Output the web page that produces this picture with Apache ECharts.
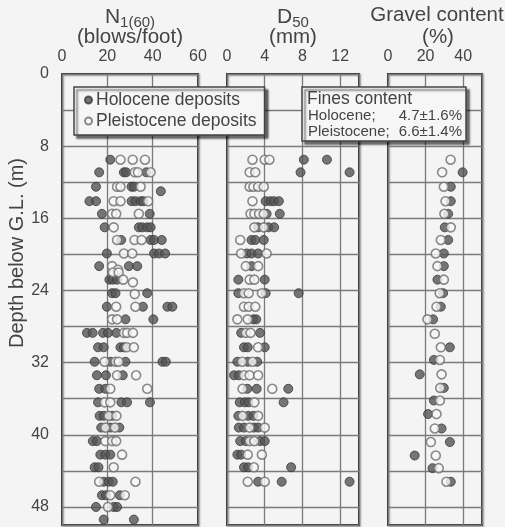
<!DOCTYPE html>
<html>
<head>
<meta charset="utf-8">
<script src="https://cdn.jsdelivr.net/npm/echarts@6/dist/echarts.min.js"></script>
<style>html,body{margin:0;padding:0;background:#f4f4f4}#c{width:505px;height:527px}</style>
</head>
<body>
<div id="c"></div>
<script>
// depth ticks and ranges
var depthTicks = [0, 8, 16, 24, 32, 40, 48];
var nTicks = [0, 20, 40, 60];
var dTicks = [0, 4, 8, 12];
var gTicks = [0, 20, 40];

// N1(60) [value, depth]
var nHolocene = [
 [21.3,9.5],
 [16.4,10.9],[27.3,10.9],[28.3,10.9],[37.2,10.9],
 [15,12.5],[30.7,12.5],[31.7,12.5],[43.6,13.0],
 [12.1,14.1],[15,14.1],[30.7,14.1],[32.4,14.1],[34.7,14.1],[35.9,14.1],
 [17.6,15.5],[38.7,15.5],
 [18.8,17.0],[33.9,17.0],[35.4,17.0],[37.6,17.0],[39.1,17.0],
 [26.1,18.4],[39.1,18.4],[40.6,18.4],[44,18.4],
 [19.8,19.9],[40.6,19.9],[42.8,19.9],[45.5,19.9],
 [16.4,21.3],[29.5,21.3],[33.2,21.3],
 [20.9,22.8],[22.4,22.8],[24.3,22.8],
 [22.1,24.3],[23.6,24.3],[37.6,24.3],
 [19.8,25.8],[35.7,25.8],[46.5,25.8],[48.7,25.8],
 [28,27.2],[40.3,27.2],
 [11,28.7],[13.5,28.7],[18.1,28.7],[20.3,28.7],[24,28.7],
 [15.9,30.3],[18.4,30.3],[25.8,30.3],[27.3,30.3],
 [14.4,31.9],[21.3,31.9],[28,31.9],[44.3,31.9],[45.8,31.9],
 [15.4,33.4],[19.4,33.4],[26.8,33.4],
 [16.4,34.9],[19.1,34.9],
 [15.9,36.4],[26.2,36.4],[28.7,36.4],[38.8,36.4],
 [16.6,37.9],[18.4,37.9],[22.1,37.9],
 [17.3,39.2],[21.3,39.2],[25.3,39.2],
 [13.6,40.7],[15.4,40.7],
 [16.9,42.2],[19.1,42.2],[21.3,42.2],
 [14.4,43.6],[16.1,43.6],
 [18.4,45.2],[20.6,45.2],[22.4,45.2],
 [17.6,46.7],[19.4,46.7],[25.5,46.7],
 [15,48.0],[22.8,48.0],[24.3,48.0],
 [18.4,49.4],[31.7,49.4]
];
var nPleistocene = [
 [25.8,9.5],[31.2,9.5],[36.6,9.5],
 [32.1,10.9],[33.5,10.9],[39.1,10.9],
 [24.3,12.5],[25.8,12.5],[34.7,12.5],
 [22.8,14.1],[25.8,14.1],[38,14.1],
 [22.1,15.5],[23.9,15.5],[33.9,15.5],
 [22.8,17.0],
 [24.3,18.4],[32,18.4],[35.1,18.4],
 [27.3,19.9],[31,19.9],
 [22.1,21.3],[24.7,21.7],[22.5,22.0],[25,22.0],
 [27,22.8],[31.3,23.1],
 [32.1,24.4],
 [23.9,25.8],[32.4,25.8],
 [22.1,27.2],[24.3,27.2],
 [27.3,28.7],[28.7,28.7],[31.3,28.7],
 [28.5,30.3],[31.7,30.3],
 [18.8,31.9],[23.6,31.9],[25,31.9],
 [24.3,33.4],[32.7,33.4],
 [21.3,34.9],[37.6,34.9],
 [18.8,36.4],[21.3,36.4],
 [20.6,37.9],[24,37.9],
 [19.1,39.2],[23.3,39.2],
 [19.1,40.7],[22.1,40.7],[23.9,40.7],
 [26.5,42.2],
 [22.8,43.6],
 [16.4,45.2],[32.4,45.2],
 [21.3,46.7],[27.7,46.7],
 [20.3,48.0]
];

// D50 (mm) [value, depth]
var dHolocene = [
 [8.15,9.5],[10.6,9.5],
 [7.8,10.9],[13.0,10.9],
 [4.1,14.1],[4.6,14.1],[5.0,14.1],[5.5,14.1],
 [4.2,15.5],[5.6,15.5],
 [3.3,17.0],[4.4,17.0],[5.0,17.0],
 [2.6,18.4],[3.0,18.4],[3.9,18.4],
 [2.1,19.9],[2.6,19.9],[3.3,19.9],
 [2.6,21.3],
 [1.2,22.8],[4.0,22.8],
 [1.2,24.3],[4.1,24.3],[7.6,24.3],
 [2.8,27.2],[3.1,27.2],
 [1.5,28.7],[3.5,28.7],
 [1.8,30.3],[2.2,30.3],[4.0,30.3],
 [1.1,31.9],[2.2,31.9],[3.2,31.9],
 [0.75,33.4],[1.25,33.4],
 [2.15,34.9],[3.15,34.9],[6.5,34.9],
 [1.35,36.4],[1.9,36.4],[2.3,36.4],[6.0,36.4],
 [1.2,37.9],[2.25,37.9],[2.8,37.9],
 [1.25,39.2],[1.8,39.2],[2.85,39.2],[3.3,39.2],
 [1.4,40.7],[2.0,40.7],[3.5,40.7],[4.0,40.7],
 [1.1,42.2],[1.5,42.2],
 [1.8,43.6],[2.25,43.6],[6.8,43.6],
 [3.3,45.2],[5.8,45.2],[13.0,45.2]
];
var dPleistocene = [
 [2.7,9.5],[4.0,9.5],[4.5,9.5],
 [2.4,10.9],[3.0,10.9],
 [2.4,12.5],[2.8,12.5],[3.3,12.5],[3.9,12.5],
 [2.7,14.1],
 [2.5,15.5],[2.9,15.5],[3.4,15.5],[3.9,15.5],
 [2.9,17.0],[3.9,17.0],
 [1.4,18.4],
 [1.5,19.9],[4.2,19.9],
 [2.0,21.3],[3.3,21.3],
 [2.4,22.8],[2.9,22.8],
 [1.8,24.3],[2.3,24.3],[3.7,24.3],
 [1.8,25.8],[2.3,25.8],[3.0,25.8],
 [1.1,27.2],[2.2,27.2],
 [2.0,28.7],[2.5,28.7],
 [3.3,30.3],
 [1.6,31.9],[2.7,31.9],
 [1.8,33.4],[2.4,33.4],[3.3,33.4],
 [1.65,34.9],[4.8,34.9],
 [2.9,36.4],
 [1.65,37.9],[3.3,37.9],
 [2.4,39.2],[4.0,39.2],
 [2.4,40.7],[2.9,40.7],
 [2.2,42.2],[3.7,42.2],
 [2.85,43.6],
 [2.2,45.2],[4.0,45.2]
];

// Gravel content (%) [value, depth]
var gHolocene = [
 [39.7,10.9],[33.4,12.5],[33.4,14.1],[32,15.5],[30.2,17.0],[32,18.4],
 [29.7,19.9],[29.7,21.3],[26.3,22.8],[29.3,24.3],[28.1,25.8],[24,27.2],
 [32.9,30.3],[24.4,31.7],[16.9,33.3],[29.7,34.8],[24.4,36.2],[21.3,37.7],
 [28.5,39.3],[32.9,40.8],[14.2,42.3],[23.7,43.7],[33.4,45.2]
];
var gPleistocene = [
 [33.3,9.5],[28.8,10.9],[29.7,12.5],[30.6,14.1],[30,15.5],[33.4,17.0],
 [28.1,18.4],[25.4,19.9],[26.3,21.3],[29.7,22.8],[27.5,24.3],[25.8,25.8],
 [21,27.2],[24.9,28.8],[28.1,30.3],[27.6,31.7],[28.5,33.3],[27.8,34.8],
 [27.6,36.2],[25.8,37.7],[24.9,39.3],[22.8,40.8],[25.4,42.3],[27,43.7],
 [31.1,45.2]
];

var FONT = 'Liberation Sans, Arial, sans-serif';
var TXT = '#444';
var GRIDC = '#7a7a7a';

var grids = [
  {left: 62, top: 74, width: 136, height: 451},
  {left: 227, top: 74, width: 132, height: 451},
  {left: 388, top: 74, width: 94, height: 451}
];
var xCfg = [
  {max: 60, interval: 20, ticks: nTicks},
  {max: 14, interval: 4, ticks: dTicks},
  {max: 50, interval: 20, ticks: gTicks}
];

var option = {
  backgroundColor: '#f4f4f4',
  animation: false,
  textStyle: {fontFamily: FONT},
  grid: grids.map(function (g) {
    return Object.assign({show: true, borderColor: '#3c3c3c', borderWidth: 2,
      shadowColor: 'rgba(0,0,0,0.35)', shadowBlur: 2, shadowOffsetX: 1, shadowOffsetY: 1}, g);
  }),
  xAxis: xCfg.map(function (c, i) {
    return {
      type: 'value', gridIndex: i, position: 'top', min: 0, max: c.max, interval: c.interval,
      axisLine: {show: false}, axisTick: {show: false},
      splitLine: {show: true, lineStyle: {color: GRIDC, width: 1.3}},
      axisLabel: {
        margin: 9, color: TXT, fontSize: 16, fontFamily: FONT,
        formatter: function (v) { return c.ticks.indexOf(v) >= 0 ? String(v) : ''; }
      }
    };
  }),
  yAxis: [0, 1, 2].map(function (i) {
    return {
      type: 'value', gridIndex: i, inverse: true, min: 0, max: 50, interval: 4,
      axisLine: {show: false}, axisTick: {show: false},
      splitLine: {show: true, lineStyle: {color: GRIDC, width: 1.3}},
      axisLabel: {
        show: i === 0, margin: 13, color: TXT, fontSize: 16, fontFamily: FONT,
        formatter: function (v) { return depthTicks.indexOf(v) >= 0 ? String(v) : ''; }
      }
    };
  }),
  legend: {
    left: 74, top: 87, orient: 'vertical',
    data: ['Holocene deposits', 'Pleistocene deposits'],
    icon: 'circle', itemWidth: 7, itemHeight: 7, itemGap: 3,
    padding: [4, 8, 5, 10],
    backgroundColor: '#f6f6f6', borderColor: '#444', borderWidth: 1.5,
    shadowColor: 'rgba(0,0,0,0.55)', shadowBlur: 2, shadowOffsetX: 3, shadowOffsetY: 3,
    textStyle: {fontSize: 17.5, color: TXT, fontFamily: FONT, padding: [0, 0, 0, -1]},
    z: 20
  },
  series: [],
  graphic: [
    // panel titles
    {type: 'text', x: 130, y: 17, z: 30, style: {
      text: '{n|N}{s|1(60)}', align: 'center', verticalAlign: 'middle',
      rich: {n: {fontSize: 21, fontFamily: FONT, fill: TXT}, s: {fontSize: 15, fontFamily: FONT, fill: TXT, padding: [11, 0, 0, 0]}}
    }},
    {type: 'text', x: 130, y: 37, z: 30, style: {text: '(blows/foot)', align: 'center', verticalAlign: 'middle', fontSize: 20.5, fontFamily: FONT, fill: TXT}},
    {type: 'text', x: 293, y: 17, z: 30, style: {
      text: '{n|D}{s|50}', align: 'center', verticalAlign: 'middle',
      rich: {n: {fontSize: 21, fontFamily: FONT, fill: TXT}, s: {fontSize: 15, fontFamily: FONT, fill: TXT, padding: [11, 0, 0, 0]}}
    }},
    {type: 'text', x: 293, y: 37, z: 30, style: {text: '(mm)', align: 'center', verticalAlign: 'middle', fontSize: 20.5, fontFamily: FONT, fill: TXT}},
    {type: 'text', x: 437, y: 15, z: 30, style: {text: 'Gravel content', align: 'center', verticalAlign: 'middle', fontSize: 20.5, fontFamily: FONT, fill: TXT}},
    {type: 'text', x: 438, y: 37, z: 30, style: {text: '(%)', align: 'center', verticalAlign: 'middle', fontSize: 20.5, fontFamily: FONT, fill: TXT}},
    // y axis title
    {type: 'text', x: 17, y: 253, rotation: Math.PI / 2, z: 30, style: {text: 'Depth below G.L. (m)', align: 'center', verticalAlign: 'middle', fontSize: 20, fontFamily: FONT, fill: TXT}},
    // fines content box
    {type: 'rect', z: 40, shape: {x: 302, y: 87, width: 164, height: 54},
      style: {fill: '#f6f6f6', stroke: '#444', lineWidth: 1.5, shadowColor: 'rgba(0,0,0,0.55)', shadowBlur: 2, shadowOffsetX: 3, shadowOffsetY: 3}},
    {type: 'text', x: 307, y: 99, z: 41, style: {text: 'Fines content', verticalAlign: 'middle', fontSize: 17.5, fontFamily: FONT, fill: TXT}},
    {type: 'text', x: 308, y: 116, z: 41, style: {text: 'Holocene;', verticalAlign: 'middle', fontSize: 15, fontFamily: FONT, fill: TXT}},
    {type: 'text', x: 462, y: 116, z: 41, style: {text: '4.7±1.6%', align: 'right', verticalAlign: 'middle', fontSize: 15, fontFamily: FONT, fill: TXT}},
    {type: 'text', x: 308, y: 132, z: 41, style: {text: 'Pleistocene;', verticalAlign: 'middle', fontSize: 15, fontFamily: FONT, fill: TXT}},
    {type: 'text', x: 462, y: 132, z: 41, style: {text: '6.6±1.4%', align: 'right', verticalAlign: 'middle', fontSize: 15, fontFamily: FONT, fill: TXT}}
  ]
};

var holoStyle = {color: '#555', borderColor: '#3a3a3a', borderWidth: 1};
var pleiStyle = {color: '#f8f8f8', borderColor: '#6e6e6e', borderWidth: 1.6};
[[nHolocene, nPleistocene], [dHolocene, dPleistocene], [gHolocene, gPleistocene]].forEach(function (pair, i) {
  option.series.push({type: 'scatter', name: 'Holocene deposits', xAxisIndex: i, yAxisIndex: i, symbolSize: 9, itemStyle: holoStyle, data: pair[0], z: 3});
  option.series.push({type: 'scatter', name: 'Pleistocene deposits', xAxisIndex: i, yAxisIndex: i, symbolSize: 9, itemStyle: pleiStyle, data: pair[1], z: 4});
});

var chart = echarts.init(document.getElementById('c'), null, {renderer: 'canvas'});
chart.setOption(option);
</script>
</body>
</html>
